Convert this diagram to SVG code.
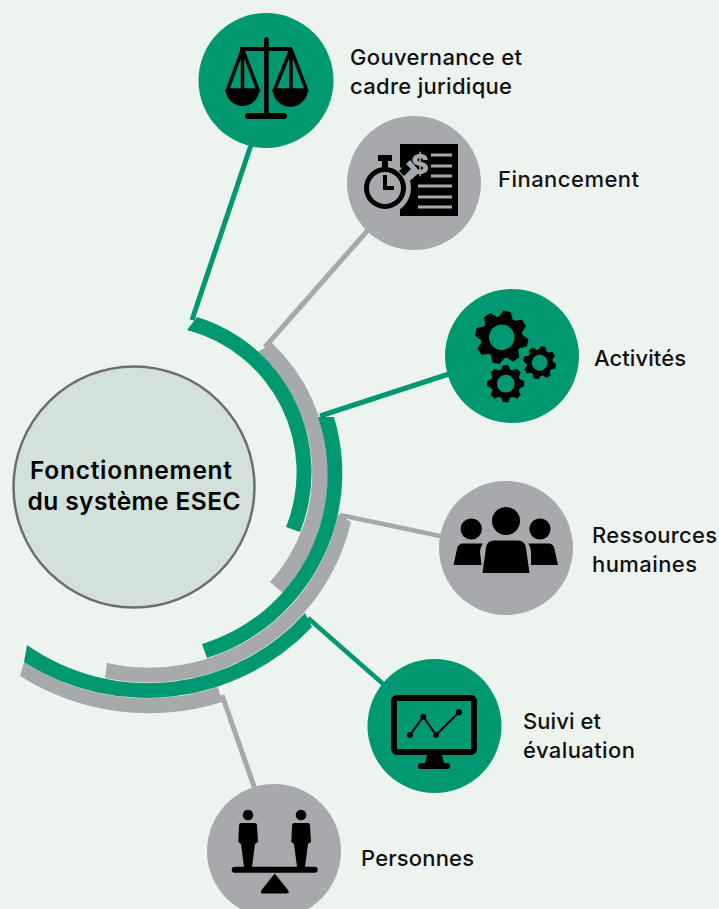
<svg xmlns="http://www.w3.org/2000/svg" width="719" height="909" viewBox="0 0 719 909">
<style>
.g{fill:#009871}.s{fill:#a7a9ac}
.cg{stroke:#009871;fill:none}.cs{stroke:#a7a9ac;fill:none}
.n{fill:#000;stroke:none}
.o{fill:none;stroke:#000}
text{font-family:"Inter","Liberation Sans",sans-serif;font-size:22px;font-weight:500;fill:#111}
.c{font-size:24.500px;font-weight:600;fill:#000;text-anchor:middle}
</style>
<defs>
<g id="gear">
<path id="bar" class="n" d="M-.99,-.15L.99,-.15L.74,-.26H-.74ZM-.99,.15L.99,.15L.74,.26H-.74Z"/>
<path class="n" d="M-1,-.15H1V.15H-1Z"/>
<use href="#bar" transform="rotate(45)"/><path class="n" transform="rotate(45)" d="M-1,-.15H1V.15H-1Z"/>
<use href="#bar" transform="rotate(90)"/><path class="n" transform="rotate(90)" d="M-1,-.15H1V.15H-1Z"/>
<use href="#bar" transform="rotate(135)"/><path class="n" transform="rotate(135)" d="M-1,-.15H1V.15H-1Z"/>
<circle class="n" r=".79"/>
<circle class="g" r=".48"/>
</g>
</defs>
<rect width="719" height="909" fill="#edf4f0"/>
<g id="connectors">
<path class="cg" stroke-width="5" d="M252,142L192,320"/>
<path class="cs" stroke-width="5" d="M375,222L265,347"/>
<path class="cg" stroke-width="5" d="M452,373L320,416"/>
<path class="cs" stroke-width="4.500" d="M340,515L445,537"/>
<path class="cg" stroke-width="4.500" d="M308,618L390,690"/>
<path class="cs" stroke-width="5" d="M222,695L256,792"/>
</g>
<g id="arcs">
<path class="s" d="M338,514A193,193 0 0 1 107,663L105,678A208,208 0 0 0 351,522Z"/>
<path class="s" d="M218,687A227,227 0 0 1 24,662L20,676A242,242 0 0 0 222,702Z"/>
<path class="g" d="M305,613A211,211 0 0 1 27,645L24,662A228,228 0 0 0 312,627Z"/>
<path class="s" d="M258,352A162,162 0 0 1 270,582L283,593A180,180 0 0 0 272,343Z"/>
<path class="g" d="M318,417A177,177 0 0 1 202,644L207,658A194,194 0 0 0 334,417Z"/>
<path class="g" d="M187,330A147,147 0 0 1 286,527L300,532A162,162 0 0 0 197,317Z"/>
</g>
<g id="center">
<circle cx="134" cy="487" r="120.500" fill="#d2e1d9" stroke="#6d6e71" stroke-width="2.500"/>
<text class="c" x="131" y="479" textLength="202">Fonctionnement</text>
<text class="c" x="134" y="510" textLength="213">du système ESEC</text>
</g>
<g id="gouvernance">
<circle class="g" cx="266" cy="80.500" r="67.500"/>
<path class="n" d="M264,51V41Q264,37 266.300,37Q268.700,37 268.700,41V113H264Z"/>
<rect class="n" x="245" y="113" width="42" height="6" rx="3"/>
<rect class="n" x="240" y="47" width="52" height="4"/>
<path class="o" stroke-width="3.500" d="M242.500,49L227.500,90H258L242.500,49V90M291,49L274.500,90H306.500L291,49V90"/>
<path class="n" d="M225.500,89H259.500A17,17 0 0 1 225.500,89ZM272.500,89H308A17.700,17.700 0 0 1 272.500,89Z"/>
<text x="350" y="65" textLength="172">Gouvernance et</text>
<text x="350" y="94" textLength="162">cadre juridique</text>
</g>
<g id="financement">
<circle class="s" cx="414" cy="183" r="67"/>
<rect class="n" x="400" y="144" width="58" height="72"/>
<path class="cs" stroke-width="3" d="M431,155H452M431,166H452M431,176H452M418,186H452M418,197H452M418,207H452"/>
<circle class="s" cx="385" cy="188" r="26"/>
<path class="s" d="M400,170L410,160L420,172L405,185Z"/>
<text x="420" y="174" text-anchor="middle" style="font-size:27px;font-weight:800;fill:#a7a9ac">$</text>
<circle class="o" cx="385" cy="188" r="18.500" stroke-width="5"/>
<path class="o" stroke-width="4" d="M385,175V188H394"/>
<rect class="n" x="378" y="155" width="14" height="6"/>
<rect class="n" x="382" y="160" width="6" height="9"/>
<path class="n" d="M399,171L406,164L411,169L404,176Z"/>
<text x="498" y="187" textLength="141">Financement</text>
</g>
<g id="activites">
<circle class="g" cx="512" cy="356" r="67"/>
<use href="#gear" transform="translate(501.700 337.300) rotate(12) scale(26.500)"/>
<use href="#gear" transform="translate(539.700 362.700) rotate(13) scale(16.500)"/>
<use href="#gear" transform="translate(505.700 383.700) scale(18.500)"/>
<text x="594" y="366" textLength="92">Activités</text>
</g>
<g id="ressources">
<circle class="s" cx="506" cy="548" r="67"/>
<circle class="n" cx="506" cy="521" r="14"/>
<circle class="n" cx="471.300" cy="529" r="10.600"/>
<circle class="n" cx="540" cy="529" r="10.600"/>
<path class="n" d="M482.500,573L486,548Q487,540.500 494,540.500H518Q525,540.500 526,548L529.500,573Z"/>
<path class="n" d="M453.500,565L457,549Q458,543.500 463,543.500H483Q480.500,546 480,552L481.500,565Z"/>
<path class="n" d="M558,565L554.500,549Q553.500,543.500 548.500,543.500H528Q530.500,546 531,552L531,565Z"/>
<text x="592" y="543" textLength="125">Ressources</text>
<text x="592" y="572" textLength="105">humaines</text>
</g>
<g id="suivi">
<circle class="g" cx="434.500" cy="726" r="67"/>
<rect class="o" x="394" y="698" width="80" height="54" rx="3" stroke-width="6"/>
<path class="n" d="M427,755H442L444,763H425Z"/>
<rect class="n" x="418" y="763" width="32" height="6" rx="2.500"/>
<path class="o" stroke-width="2" d="M410,735L423.300,716.700L436,735L459,712.300"/>
<circle class="n" cx="410" cy="735" r="3"/>
<circle class="n" cx="423.300" cy="716.700" r="3"/>
<circle class="n" cx="436" cy="735" r="3"/>
<circle class="n" cx="459" cy="712.300" r="3"/>
<text x="523" y="729" textLength="78">Suivi et</text>
<text x="523" y="758" textLength="112">évaluation</text>
</g>
<g id="personnes">
<circle class="s" cx="274" cy="851" r="67"/>
<circle class="n" cx="248" cy="815" r="5.300"/>
<circle class="n" cx="301" cy="815" r="5.300"/>
<path class="n" d="M241,823H255Q257,823 257,826L258,842L255,844L252,867H244L241,844L238.300,842L239,826Q239,823 241,823Z"/>
<path class="n" d="M294,823H308Q310,823 310,826L311,842L308,844L305,867H297L294,844L291.300,842L292,826Q292,823 294,823Z"/>
<rect class="n" x="231.700" y="866.700" width="86" height="6" rx="3"/>
<path class="n" d="M274.700,873.500L288,890Q290,893.500 286,893.500H263Q259.500,893.500 261.500,890Z"/>
<text x="361" y="866" textLength="113">Personnes</text>
</g>
</svg>
